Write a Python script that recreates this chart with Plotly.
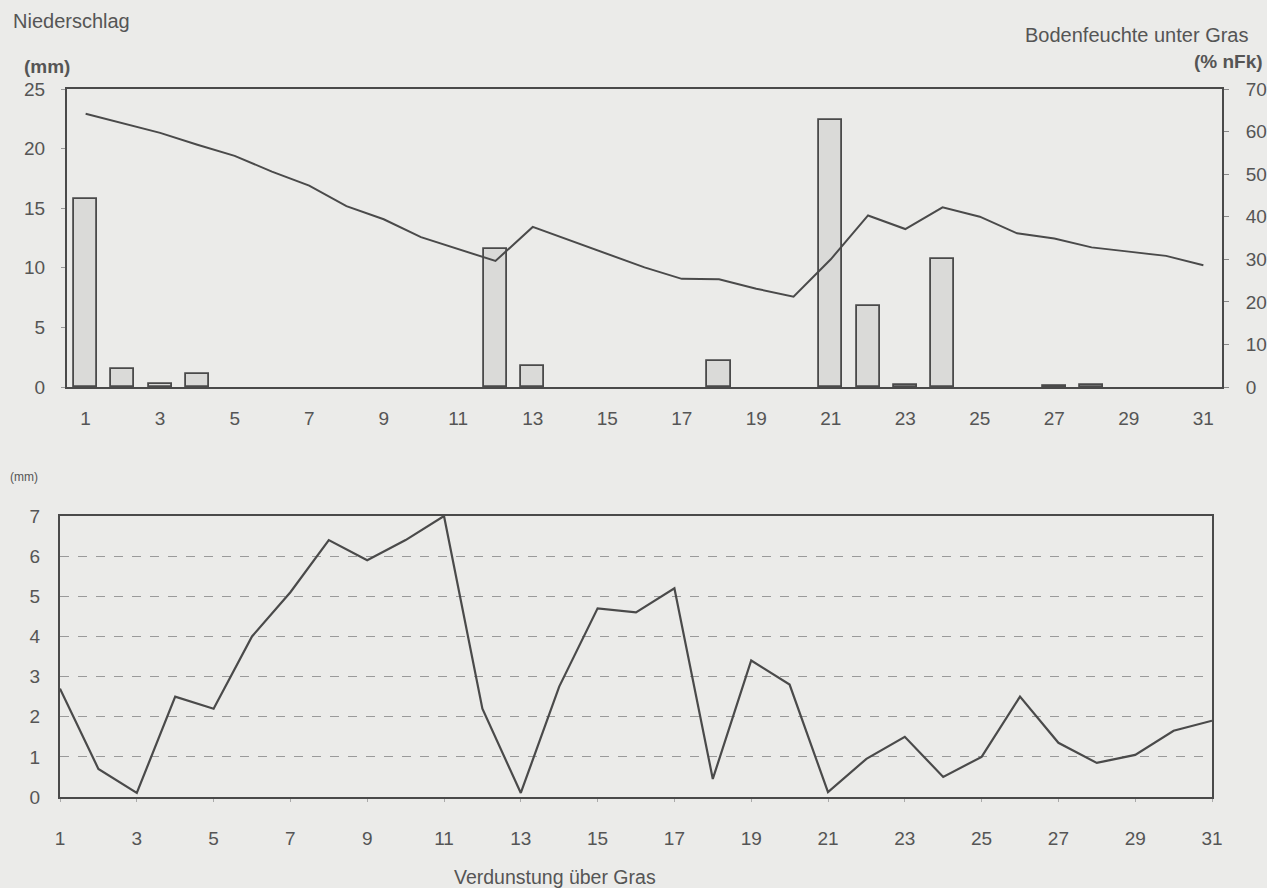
import plotly.graph_objects as go

days = list(range(1, 32))
tick_vals = list(range(1, 32, 2))
tick_text = [str(v) for v in tick_vals]

# Niederschlag (mm), bars (None = no rain)
niederschlag = [15.8, 1.5, 0.25, 1.1, None, None, None, None, None, None, None, 11.6, 1.8, None, None,
                None, None, 2.2, None, None, 22.4, 6.8, 0.2, 10.7, None, None, 0.1, 0.15, None, None, None]
# Bodenfeuchte unter Gras (% nFk), line
bodenfeuchte = [64.2, 61.9, 59.7, 56.9, 54.3, 50.6, 47.3, 42.5, 39.4, 35.2, 32.4, 29.6, 37.6, 34.4,
                31.2, 28.1, 25.4, 25.3, 23.1, 21.2, 30.0, 40.3, 37.1, 42.2, 40.0, 36.1, 34.9, 32.8,
                31.8, 30.8, 28.6]
# Verdunstung über Gras (mm), line
verdunstung = [2.7, 0.7, 0.1, 2.5, 2.2, 4.0, 5.1, 6.4, 5.9, 6.4, 7.0, 2.2, 0.1, 2.75, 4.7, 4.6,
               5.2, 0.45, 3.4, 2.8, 0.12, 0.95, 1.5, 0.5, 1.0, 2.5, 1.35, 0.85, 1.05, 1.65, 1.9]

BG = "#ebebe9"
INK = "#4a4a4a"
TXT = "#555555"
FONT = "Liberation Sans, Arial, sans-serif"

fig = go.Figure()

fig.add_trace(go.Bar(x=days, y=niederschlag, xaxis="x", yaxis="y", width=0.62,
                     marker=dict(color="#dadad8", line=dict(color=INK, width=1.8)),
                     showlegend=False))
fig.add_trace(go.Scatter(x=days, y=bodenfeuchte, xaxis="x", yaxis="y2", mode="lines",
                         line=dict(color=INK, width=2), showlegend=False))
fig.add_trace(go.Scatter(x=days, y=verdunstung, xaxis="x3", yaxis="y3", mode="lines",
                         line=dict(color=INK, width=2.2), showlegend=False))

tickfont = dict(family=FONT, size=19, color=TXT)

fig.update_layout(
    width=1267, height=888,
    autosize=False,
    margin=dict(l=0, r=0, t=0, b=0, pad=0, autoexpand=False),
    paper_bgcolor=BG, plot_bgcolor=BG,
    font=dict(family=FONT, color=TXT),
    bargap=0,
    xaxis=dict(domain=[67/1267, 1222/1267], range=[0.5, 31.5], tickvals=tick_vals, ticktext=tick_text,
               showline=True, linecolor=INK, linewidth=2, mirror=True, showgrid=False, zeroline=False,
               ticks="", tickfont=tickfont, ticklabelstandoff=13, anchor="y", automargin=False),
    yaxis=dict(domain=[1-387/888, 1-89/888], range=[0, 25], tickvals=[0, 5, 10, 15, 20, 25],
               showline=True, linecolor=INK, linewidth=2, showgrid=False, zeroline=False,
               ticks="outside", ticklen=4, tickcolor="#999", tickfont=tickfont, ticklabelstandoff=12,
               automargin=False),
    yaxis2=dict(overlaying="y", side="right", range=[0, 70], tickvals=[0, 10, 20, 30, 40, 50, 60, 70],
                showline=True, linecolor=INK, linewidth=2, showgrid=False, zeroline=False,
                ticks="outside", ticklen=5, tickcolor="#888", tickfont=tickfont, ticklabelstandoff=13,
                anchor="x", automargin=False),
    xaxis3=dict(domain=[60/1267, 1212/1267], range=[1, 31], tickvals=tick_vals, ticktext=tick_text,
                showline=True, linecolor=INK, linewidth=2, mirror=True, showgrid=False, zeroline=False,
                ticks="outside", ticklen=3, tickcolor="#aaa", tickfont=tickfont, ticklabelstandoff=20,
                anchor="y3", automargin=False),
    yaxis3=dict(domain=[1-797/888, 1-516/888], range=[0, 7], tickvals=list(range(8)),
                showline=True, linecolor=INK, linewidth=2, mirror=True, showgrid=True,
                gridcolor="#9a9a9a", griddash="dash", gridwidth=1, zeroline=False,
                ticks="", tickfont=tickfont, ticklabelstandoff=14, anchor="x3", automargin=False),
)

ann = [
    dict(text="Niederschlag", x=11, y=21, size=20, xanchor="left"),
    dict(text="<b>(mm)</b>", x=22, y=66, size=19, xanchor="left"),
    dict(text="Bodenfeuchte unter Gras", x=1250, y=35, size=20, xanchor="right"),
    dict(text="<b>(% nFk)</b>", x=1265, y=62, size=19, xanchor="right"),
    dict(text="(mm)", x=8, y=477, size=12, xanchor="left"),
    dict(text="Verdunstung über Gras", x=555, y=877, size=19.5, xanchor="center"),
]
for a in ann:
    fig.add_annotation(text=a["text"], xref="paper", yref="paper", x=a["x"]/1267, y=1-a["y"]/888,
                       xanchor=a["xanchor"], yanchor="middle", showarrow=False,
                       font=dict(family=FONT, size=a["size"], color=TXT))

fig.write_html("out.html", config={"responsive": False, "displayModeBar": False},
               post_script="document.body.style.margin='0';document.body.style.background='%s';"
                           "document.documentElement.style.overflow='hidden';" % BG)
